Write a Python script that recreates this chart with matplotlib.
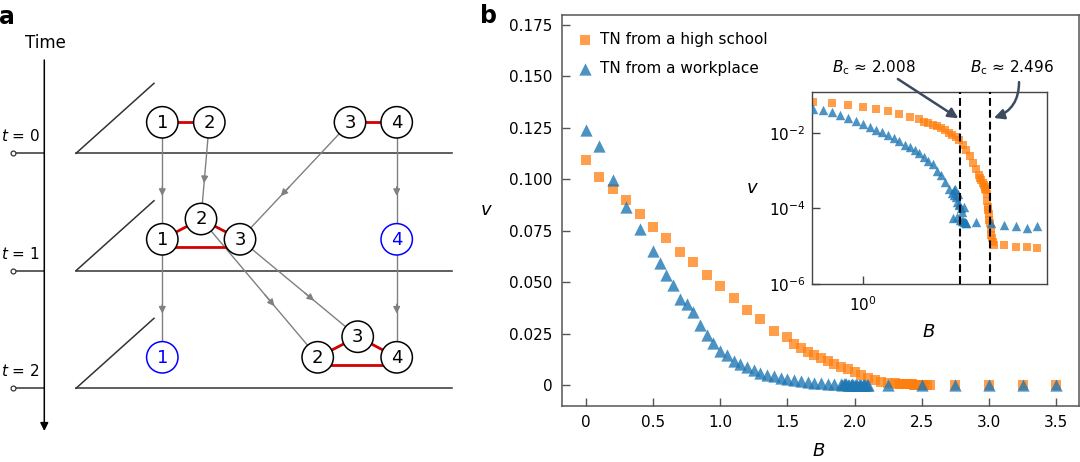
import matplotlib
matplotlib.use('Agg')
import matplotlib.pyplot as plt
from matplotlib.patches import Circle
from matplotlib.ticker import NullLocator

# ---- panel b data ----
hs_B = [0.0, 0.1, 0.2, 0.3, 0.4, 0.5, 0.6, 0.7, 0.8, 0.9, 1.0, 1.1, 1.2, 1.3, 1.4, 1.5,
        1.55, 1.6, 1.65, 1.7, 1.75, 1.8, 1.85, 1.9, 1.95, 2.0, 2.05, 2.1, 2.15, 2.2, 2.25, 2.3,
        2.32, 2.34, 2.36, 2.38, 2.40, 2.41, 2.42, 2.43, 2.44, 2.45, 2.46, 2.47, 2.48, 2.49,
        2.50, 2.51, 2.52, 2.54, 2.56, 2.75, 3.0, 3.25, 3.5]
hs_v = [0.1094, 0.1012, 0.0951, 0.0899, 0.0832, 0.0767, 0.0713, 0.0645, 0.0600, 0.0533,
        0.0483, 0.0422, 0.0366, 0.0320, 0.0260, 0.0231,
        0.0198, 0.0178, 0.0160, 0.0147, 0.0131, 0.0116, 0.0101, 0.0088, 0.0076, 0.0064,
        0.0048, 0.0035, 0.0024, 0.0016, 0.0011, 0.00075,
        0.00062, 0.00055, 0.00048, 0.00042, 0.00036, 0.00032, 0.00030, 0.00024, 0.00016,
        0.00011, 0.00009, 0.00007, 0.00005, 0.00004,
        0.000028, 0.00002, 0.000016, 0.000013, 0.000011, 0.0000107, 0.0000095, 0.0000095, 0.000009]

wp_B = [0.0, 0.1, 0.2, 0.3, 0.4, 0.5, 0.55, 0.6, 0.65, 0.7, 0.75, 0.8, 0.85, 0.9, 0.95,
        1.0, 1.05, 1.1, 1.15, 1.2, 1.25, 1.3, 1.35, 1.4, 1.45, 1.5, 1.55, 1.6, 1.65, 1.7,
        1.75, 1.8, 1.85,
        1.90, 1.91, 1.92, 1.93, 1.94, 1.95, 1.96, 1.97, 1.98, 1.99, 2.00, 2.01, 2.02, 2.03,
        2.04, 2.05, 2.06, 2.07, 2.08, 2.09, 2.10,
        2.25, 2.5, 2.75, 3.0, 3.25, 3.5]
wp_v = [0.1240, 0.1162, 0.0999, 0.0866, 0.0759, 0.0650, 0.0593, 0.0536, 0.0487, 0.0419,
        0.0395, 0.0353, 0.0292, 0.0244, 0.0203,
        0.0167, 0.0146, 0.0117, 0.0104, 0.0088, 0.0072, 0.0059, 0.0048, 0.0042, 0.0035,
        0.0030, 0.0023, 0.0018, 0.0015, 0.0010, 0.00075, 0.0005, 0.00032,
        0.00026, 0.000055, 0.00030, 0.00022, 0.00032, 0.00020, 0.00015, 0.00006, 0.00024,
        0.00013, 0.00012, 0.00005, 0.00010, 0.000046, 0.00008, 0.000045, 0.00011, 0.000043,
        0.000044, 0.000042, 0.000042,
        0.000044, 0.000040, 0.000036, 0.000034, 0.000030, 0.000034]

B_crit = [2.008, 2.496]
x_ticks = [0, 0.5, 1.0, 1.5, 2.0, 2.5, 3.0, 3.5]
x_ticklabels = ['0', '0.5', '1.0', '1.5', '2.0', '2.5', '3.0', '3.5']
y_ticks = [0, 0.025, 0.05, 0.075, 0.1, 0.125, 0.15, 0.175]
y_ticklabels = ['0', '0.025', '0.050', '0.075', '0.100', '0.125', '0.150', '0.175']

# ---- panel a schematic (pixel layout of the sketch) ----
plane_y = [153.3, 270.7, 388.3]
time_labels = ['$t$ = 0', '$t$ = 1', '$t$ = 2']
nodes = [
    {1: (162.3, 122.3), 2: (209.3, 122.3), 3: (350.0, 122.3), 4: (396.7, 122.3)},
    {1: (162.3, 239.3), 2: (201.0, 219.0), 3: (240.0, 239.3), 4: (396.7, 239.3)},
    {1: (162.3, 357.3), 2: (317.7, 357.3), 3: (357.7, 336.7), 4: (396.7, 357.3)},
]
blue_nodes = [(1, 4), (2, 1)]
links = [
    [(1, 2, 0), (3, 4, 0)],
    [(1, 2, 0), (2, 3, 0), (1, 3, 8)],
    [(2, 3, 0), (3, 4, 0), (2, 4, 8)],
]

ORANGE = '#ff7f0e'
BLUE = '#1f77b4'
RED = '#d40000'
GREY = '#808080'
R = 15.7

fig = plt.figure(figsize=(10.8, 4.62), dpi=100)

# ================= panel a =================
ax_a = fig.add_axes([0, 0, 486 / 1080, 1])
ax_a.set_xlim(0, 486)
ax_a.set_ylim(462, 0)
ax_a.axis('off')

# time axis
ax_a.annotate('', xy=(44.3, 431), xytext=(44.3, 60),
              arrowprops=dict(arrowstyle='-|>', color='k', lw=1.1, mutation_scale=12,
                              shrinkA=0, shrinkB=0))
ax_a.text(45, 43, 'Time', fontsize=12, ha='center', va='center')
for y, lab in zip(plane_y, time_labels):
    ax_a.plot([13.3, 44.3], [y, y], color='#333333', lw=1.1, zorder=1)
    ax_a.plot([13.3], [y], marker='o', ms=3.5, mfc='white', mec='#333333', mew=0.9, zorder=2)
    ax_a.text(1.0, y - 17, lab, fontsize=11, ha='left', va='center')
    # plane outline
    ax_a.plot([76, 452], [y, y], color='#333333', lw=1.1, zorder=1)
    ax_a.plot([76, 154], [y, y - 70], color='#333333', lw=1.1, zorder=1)

# transitions between layers
for k in range(2):
    for n in (1, 2, 3, 4):
        x0, y0 = nodes[k][n]
        x1, y1 = nodes[k + 1][n]
        ax_a.plot([x0, x1], [y0, y1], color=GREY, lw=1.0, zorder=1)
        f = 0.63
        tip = (x0 + f * (x1 - x0), y0 + f * (y1 - y0))
        back = (x0 + (f - 0.08) * (x1 - x0), y0 + (f - 0.08) * (y1 - y0))
        ax_a.annotate('', xy=tip, xytext=back,
                      arrowprops=dict(arrowstyle='-|>', color=GREY, lw=1.0,
                                      mutation_scale=10, shrinkA=0, shrinkB=0), zorder=2)

# contacts
for k in range(3):
    for a, b, off in links[k]:
        (xa, ya), (xb, yb) = nodes[k][a], nodes[k][b]
        ax_a.plot([xa, xb], [ya + off, yb + off], color=RED, lw=2.0, zorder=2,
                  solid_capstyle='butt')

# nodes
for k in range(3):
    for n, (x, y) in nodes[k].items():
        col = 'blue' if (k, n) in blue_nodes else 'black'
        ax_a.add_patch(Circle((x, y), R, facecolor='white', edgecolor=col, lw=1.1, zorder=3))
        ax_a.text(x, y + 0.5, str(n), color=col, fontsize=13, ha='center', va='center', zorder=4)

fig.text(7 / 1080, 1 - 17 / 462, 'a', fontsize=17, fontweight='bold', ha='center', va='center')
fig.text(489 / 1080, 1 - 16 / 462, 'b', fontsize=17, fontweight='bold', ha='center', va='center')

# ================= panel b =================
ax = fig.add_axes([561.7 / 1080, 1 - 405.7 / 462, (1079 - 561.7) / 1080, (405.7 - 15) / 462])
ax.scatter(hs_B, hs_v, marker='s', s=62, color=ORANGE, alpha=0.75, linewidths=0,
           label='TN from a high school', zorder=2)
ax.scatter(wp_B, wp_v, marker='^', s=78, color=BLUE, alpha=0.8, linewidths=0,
           label='TN from a workplace', zorder=3)
ax.set_xlim(-0.179, 3.67)
ax.set_ylim(-0.0101, 0.1799)
ax.set_xticks(x_ticks)
ax.set_xticklabels(x_ticklabels)
ax.set_yticks(y_ticks)
ax.set_yticklabels(y_ticklabels)
ax.tick_params(direction='in', length=6, width=1.0, color='#555555', labelsize=11, pad=6.5)
for sp in ax.spines.values():
    sp.set_color('#555555')
    sp.set_linewidth(1.1)
ax.set_xlabel('$B$', fontsize=13)
ax.xaxis.set_label_coords(0.497, -0.093)
ax.set_ylabel('$v$', fontsize=13, rotation=0, ha='center', va='center')
ax.yaxis.set_label_coords(-0.146, 0.5)
ax.legend(loc='upper left', bbox_to_anchor=(0.0303, 0.957), frameon=False, fontsize=11,
          handlelength=1.0, handletextpad=0.48, labelspacing=0.95, borderpad=0,
          borderaxespad=0, scatterpoints=1)

# ---- inset ----
ax_in = fig.add_axes([812.3 / 1080, 1 - 284 / 462, (1046.7 - 812.3) / 1080, (284 - 91.7) / 462])
ax_in.scatter(hs_B, hs_v, marker='s', s=38, color=ORANGE, alpha=0.75, linewidths=0, zorder=2)
ax_in.scatter(wp_B, wp_v, marker='^', s=46, color=BLUE, alpha=0.8, linewidths=0, zorder=3)
ax_in.set_xscale('log')
ax_in.set_yscale('log')
ax_in.set_xlim(0.696, 3.74)
ax_in.set_ylim(1e-6, 0.1216)
ax_in.set_xticks([1])
ax_in.set_yticks([1e-6, 1e-4, 1e-2])
ax_in.xaxis.set_minor_locator(NullLocator())
ax_in.yaxis.set_minor_locator(NullLocator())
ax_in.tick_params(direction='in', length=6, width=1.0, color='#444444', labelsize=11)
ax_in.tick_params(axis='y', pad=5)
ax_in.tick_params(axis='x', pad=8)
for sp in ax_in.spines.values():
    sp.set_color('#444444')
    sp.set_linewidth(1.0)
for bc in B_crit:
    ax_in.axvline(bc, color='k', lw=1.5, ls=(0, (3.8, 1.9)), zorder=5)
ax_in.set_xlabel('$B$', fontsize=13)
ax_in.xaxis.set_label_coords(0.498, -0.203)
ax_in.set_ylabel('$v$', fontsize=13, rotation=0, ha='center', va='center')
ax_in.yaxis.set_label_coords(-0.257, 0.5)

ARROW = '#3d4b60'
ax_in.text(0.263, 1.123, r'$B_{\mathrm{c}}$ ≈ 2.008', transform=ax_in.transAxes,
           fontsize=11, ha='center', va='center')
ax_in.text(0.852, 1.123, r'$B_{\mathrm{c}}$ ≈ 2.496', transform=ax_in.transAxes,
           fontsize=11, ha='center', va='center')
ax_in.annotate('', xy=(1.985, 0.024), xytext=(0.365, 1.066), textcoords='axes fraction',
               arrowprops=dict(arrowstyle='-|>', color=ARROW, lw=1.8, mutation_scale=15,
                               shrinkA=0, shrinkB=0))
ax_in.annotate('', xy=(2.56, 0.0245), xytext=(0.882, 1.05), textcoords='axes fraction',
               arrowprops=dict(arrowstyle='-|>', color=ARROW, lw=1.8, mutation_scale=15,
                               shrinkA=0, shrinkB=0, connectionstyle='arc3,rad=-0.35'))

fig.savefig('out.png', dpi=100)
